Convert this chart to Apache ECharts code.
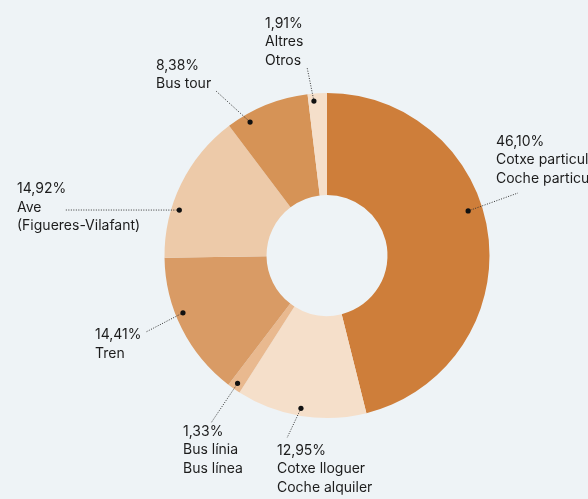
<!DOCTYPE html>
<html>
<head>
<meta charset="utf-8">
<script src="https://cdn.jsdelivr.net/npm/echarts@6/dist/echarts.min.js"></script>
<style>
  html, body { margin: 0; padding: 0; background: #eef3f6; }
  #chart { width: 588px; height: 499px; }
</style>
</head>
<body>
<div id="chart"></div>
<script>
// slices, clockwise from 12 o'clock
var names = [
  'Cotxe particular\nCoche particular',
  'Cotxe lloguer\nCoche alquiler',
  'Bus línia\nBus línea',
  'Tren',
  'Ave\n(Figueres-Vilafant)',
  'Bus tour',
  'Altres\nOtros'
];
var shares = [46.10, 12.95, 1.33, 14.41, 14.92, 8.38, 1.91];

var colors = ['#ce7e3a', '#f5dfca', '#e9b98f', '#d99b65', '#edcaa9', '#d69356', '#f5dfca'];

// annotation layout: dot nudge from slice middle (deg), dot radius (px),
// end of the dotted leader and top-left of the text block (px)
var dotShift = [-10.5, 0.4, 0, 5, -9, -8, -1.4];
var dotRadius = [148, 155, 156, 155, 154.5, 154, 155];
var lineEnd = [[518, 193], [287, 438], [211, 423], [146, 332], [65, 210], [216, 91], [307, 67]];
var labelPos = [[496, 132], [277, 441], [183, 422], [95, 325.5], [17, 179.5], [156, 56], [265, 14]];

var CX = 327, CY = 255.5, R = 162.5;

function pct(v) {
  return v.toFixed(2).replace('.', ',') + '%';
}

var total = shares.reduce(function (a, b) { return a + b; }, 0);
var acc = 0;
var dots = shares.map(function (v, i) {
  var mid = (acc + v / 2) / total * 360;
  acc += v;
  return [dotRadius[i], mid + dotShift[i], i];
});

var chart = echarts.init(document.getElementById('chart'));
chart.setOption({
  backgroundColor: '#eef3f6',
  animation: false,
  polar: { center: [CX, CY], radius: R },
  angleAxis: { type: 'value', min: 0, max: 360, startAngle: 90, clockwise: true, show: false },
  radiusAxis: { type: 'value', min: 0, max: R, show: false },
  series: [{
    type: 'pie',
    center: [CX, CY],
    radius: [60.5, R],
    startAngle: 90,
    clockwise: true,
    silent: true,
    label: { show: false },
    labelLine: { show: false },
    emphasis: { disabled: true },
    itemStyle: { borderWidth: 0 },
    data: shares.map(function (v, i) {
      return { name: names[i], value: v, itemStyle: { color: colors[i] } };
    })
  }, {
    type: 'custom',
    coordinateSystem: 'polar',
    silent: true,
    z: 5,
    data: dots,
    renderItem: function (params, api) {
      var i = api.value(2);
      var p = api.coord([api.value(0), api.value(1)]);
      var end = lineEnd[i], lp = labelPos[i];
      return {
        type: 'group',
        children: [{
          type: 'polyline',
          shape: { points: [p, end] },
          style: { stroke: '#333', lineWidth: 1, lineDash: [1, 1.5], fill: null }
        }, {
          type: 'circle',
          shape: { cx: p[0], cy: p[1], r: 2.6 },
          style: { fill: '#111' }
        }, {
          type: 'text',
          x: lp[0],
          y: lp[1],
          style: {
            text: pct(shares[i]) + '\n' + names[i],
            fill: '#1c1c1c',
            fontSize: 14,
            fontFamily: 'Inter',
            lineHeight: 18.7,
            align: 'left',
            verticalAlign: 'top'
          }
        }]
      };
    }
  }]
});
</script>
</body>
</html>
